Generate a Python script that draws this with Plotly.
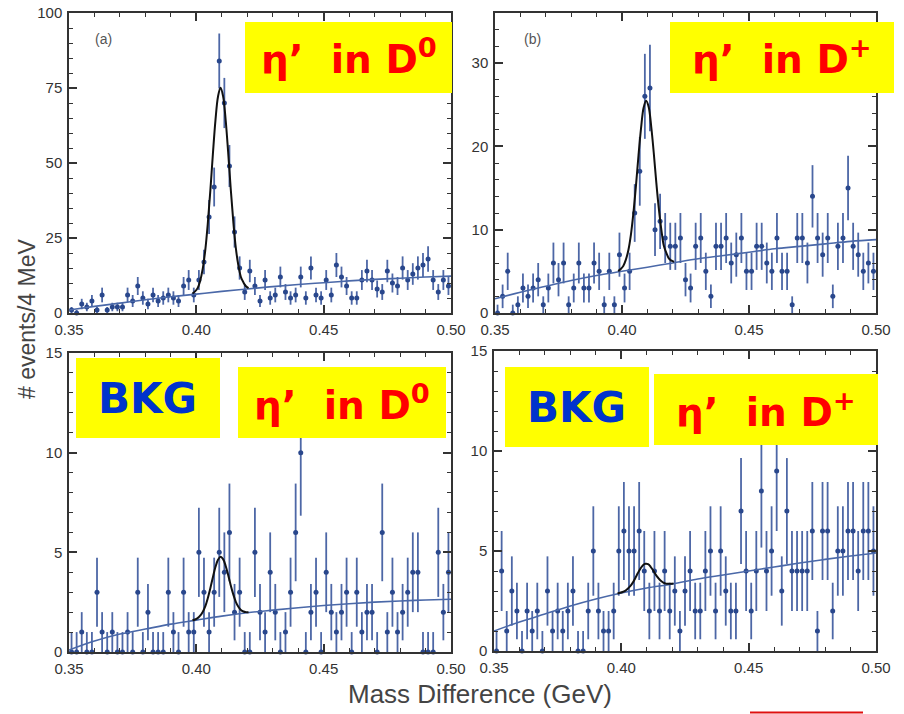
import math
import plotly.graph_objects as go

W, H = 904, 714

# ---------------- data ----------------
BIN_START = 0.350
BIN_WIDTH = 0.002
N_BINS = 75
MASS = [round(BIN_START + BIN_WIDTH * (i + 0.5), 4) for i in range(N_BINS)]

# (a) eta' in D0
COUNTS_A = [1, 0, 3, 2, 4, 1, 6, 1, 2, 2, 2, 6, 4, 9, 5, 3, 6, 4, 5, 6, 5, 4, 9, 11, 6,
            11, 17, 32, 42, 84, 70, 49, 27, 15, 7, 14, 9, 4, 11, 5, 6, 12, 7, 5, 6,
            12, 5, 15, 6, 5, 11, 6, 16, 12, 9, 5, 5, 11, 14, 11, 8, 7, 14, 10, 9,
            15, 11, 13, 15, 16, 18, 11, 7, 11, 9]
# (b) eta' in D+
COUNTS_B = [0, 2, 5, 0, 1, 3, 2, 3, 4, 1, 3, 6, 4, 6, 1, 3, 6, 3, 3, 6,
            5, 1, 5, 1, 7, 3, 5, 12, 17, 26, 27, 10, 11, 9, 8, 8, 9, 4, 3, 8,
            9, 5, 2, 8, 8, 9, 6, 7, 9, 5, 5, 8, 8, 6, 5, 9, 5, 5, 1, 9,
            9, 6, 14, 9, 7, 9, 2, 8, 9, 15, 8, 7, 5, 6, 5]
# BKG eta' in D0
COUNTS_C = [0, 0, 1, 0, 0, 3, 1, 0, 1, 0, 0, 1, 0, 3, 0, 2, 0, 0, 0, 3,
            1, 0, 3, 1, 1, 5, 3, 1, 3, 5, 4, 6, 2, 3, 0, 0, 5, 2, 1, 4,
            2, 0, 1, 3, 6, 10, 0, 2, 3, 0, 4, 2, 1, 2, 3, 0, 3, 1, 2, 2,
            0, 6, 1, 3, 1, 2, 3, 4, 4, 0, 0, 0, 5, 2, 4]
# BKG eta' in D+
COUNTS_D = [0, 4, 1, 3, 2, 0, 2, 1, 2, 0, 3, 1, 2, 1, 2, 3, 0, 0, 2, 5,
            2, 1, 1, 2, 5, 6, 5, 5, 6, 4, 2, 4, 2, 4, 2, 3, 1, 3, 4, 2,
            2, 4, 5, 2, 5, 3, 2, 2, 7, 4, 2, 4, 8, 4, 5, 9, 3, 7, 4, 4,
            4, 4, 6, 1, 6, 6, 2, 5, 5, 6, 6, 4, 6, 6, 5]

# background fit curves
FIT_X = [0.35, 0.36, 0.37, 0.38, 0.39, 0.40, 0.41, 0.42, 0.43, 0.44, 0.45, 0.46,
         0.47, 0.48, 0.49, 0.50]
BKG_A = [1.0, 2.2, 3.3, 4.4, 5.4, 6.3, 7.2, 8.0, 8.8, 9.5, 10.1, 10.7, 11.2, 11.6, 12.0, 12.3]
BKG_B = [1.7, 2.5, 3.2, 3.9, 4.5, 5.0, 5.5, 6.0, 6.5, 6.9, 7.3, 7.7, 8.0, 8.3, 8.6, 8.8]
BKG_C = [0.1, 0.55, 0.9, 1.15, 1.4, 1.6, 1.8, 1.97, 2.1, 2.22, 2.33, 2.42, 2.5, 2.56, 2.61, 2.65]
BKG_D = [1.0, 1.45, 1.85, 2.25, 2.6, 2.9, 3.15, 3.35, 3.6, 3.8, 4.0, 4.2, 4.4, 4.58, 4.75, 4.9]

# signal + background curves around the peak
PEAK_X = [0.3985, 0.3995, 0.4005, 0.4015, 0.4025, 0.4035, 0.4045, 0.4055, 0.4065, 0.4075,
          0.4085, 0.4095, 0.4105, 0.4115, 0.4125, 0.4135, 0.4145, 0.4155, 0.4165, 0.4175,
          0.4185, 0.4195, 0.4205]
PEAK_A = [6.5, 7.2, 8.3, 10.7, 14.7, 20.9, 29.8, 40.8, 53.0, 64.1, 72.1, 75.1, 72.3, 64.5,
          53.5, 41.5, 30.6, 21.7, 15.9, 12.0, 10.2, 8.9, 8.3]
PEAK_B = [5.03, 5.28, 5.63, 6.38, 7.53, 9.38, 12.03, 15.28, 18.93, 22.18, 24.63, 25.48,
          24.73, 22.38, 19.23, 15.68, 12.53, 9.98, 8.03, 7.18, 6.53, 6.28, 6.13]
PEAK_C = [1.59, 1.63, 1.70, 1.82, 2.01, 2.29, 2.70, 3.20, 3.75, 4.26, 4.63, 4.78, 4.66,
          4.33, 3.86, 3.35, 2.89, 2.52, 2.27, 2.11, 2.03, 2.00, 2.00]
PEAK_D = [2.88, 2.91, 2.95, 3.01, 3.11, 3.24, 3.42, 3.65, 3.90, 4.12, 4.29, 4.36, 4.34,
          4.21, 4.03, 3.82, 3.65, 3.51, 3.42, 3.37, 3.36, 3.36, 3.37]

X_TICKS = [0.35, 0.40, 0.45, 0.50]
Y_RANGES = [[0, 100], [0, 36], [0, 15], [0, 15]]
Y_DTICK = [25, 10, 5, 5]
Y_MINOR = [5, 2, 1, 1]

X_TITLE = "Mass Difference (GeV)"
Y_TITLE = "# events/4 MeV"

# ---------------- style ----------------
PT_COLOR = "#29478c"
ERR_COLOR = "#4d67a6"
BKG_COLOR = "#4a68a8"
AX_COLOR = "#333333"
TICK_FONT = dict(family="Liberation Sans, Arial, sans-serif", size=15, color="#333333")


def px(x):
    return x / W


def py(y):
    return 1 - y / H


# axis domains in pixel positions (left, right, top, bottom)
PANELS = [
    (69, 451, 13, 313),
    (495, 876, 13, 313),
    (69, 451, 353, 652),
    (494, 876, 351, 651),
]

fig = go.Figure()

datasets = [(COUNTS_A, BKG_A, PEAK_A), (COUNTS_B, BKG_B, PEAK_B),
            (COUNTS_C, BKG_C, PEAK_C), (COUNTS_D, BKG_D, PEAK_D)]

for k, (counts, bkg, peak) in enumerate(datasets):
    xa = "x" if k == 0 else f"x{k+1}"
    ya = "y" if k == 0 else f"y{k+1}"
    err_up = [math.sqrt(c) if c > 0 else 1.0 for c in counts]
    err_dn = [math.sqrt(c) for c in counts]
    fig.add_trace(go.Scatter(
        x=MASS, y=counts, mode="markers", xaxis=xa, yaxis=ya,
        marker=dict(color=PT_COLOR, size=5),
        error_y=dict(type="data", symmetric=False, array=err_up, arrayminus=err_dn,
                     color=ERR_COLOR, thickness=1.8, width=0),
        cliponaxis=False, showlegend=False, hoverinfo="skip"))
    fig.add_trace(go.Scatter(
        x=FIT_X, y=bkg, mode="lines", xaxis=xa, yaxis=ya,
        line=dict(color=BKG_COLOR, width=1.6, shape="spline"),
        showlegend=False, hoverinfo="skip"))
    fig.add_trace(go.Scatter(
        x=PEAK_X, y=peak, mode="lines", xaxis=xa, yaxis=ya,
        line=dict(color="#111111", width=2, shape="spline"),
        showlegend=False, hoverinfo="skip"))

layout = dict(width=W, height=H, margin=dict(l=0, r=0, t=0, b=0, autoexpand=False),
              paper_bgcolor="white", plot_bgcolor="white", showlegend=False)

for k, (l, r, t, b) in enumerate(PANELS):
    xname = "xaxis" if k == 0 else f"xaxis{k+1}"
    yname = "yaxis" if k == 0 else f"yaxis{k+1}"
    xa = "x" if k == 0 else f"x{k+1}"
    ya = "y" if k == 0 else f"y{k+1}"
    layout[xname] = dict(
        domain=[px(l), px(r)], anchor=ya, range=[0.35, 0.50], automargin=False,
        tickvals=X_TICKS, tickformat=".2f", ticks="inside", ticklen=8, tickwidth=1.5,
        tickcolor=AX_COLOR, showline=True, linecolor=AX_COLOR, linewidth=1.5,
        mirror="ticks", showgrid=False, zeroline=False, tickfont=TICK_FONT,
        ticklabelstandoff=2,
        minor=dict(tick0=0.35, dtick=0.01, ticks="inside", ticklen=4, tickwidth=1,
                   tickcolor=AX_COLOR, showgrid=False))
    layout[yname] = dict(
        domain=[py(b), py(t)], anchor=xa, range=Y_RANGES[k], dtick=Y_DTICK[k], tick0=0,
        automargin=False,
        ticks="inside", ticklen=8, tickwidth=1.5, tickcolor=AX_COLOR,
        showline=True, linecolor=AX_COLOR, linewidth=1.5, mirror="ticks",
        showgrid=False, zeroline=False, tickfont=TICK_FONT, ticklabelstandoff=2,
        minor=dict(tick0=0, dtick=Y_MINOR[k], ticks="inside", ticklen=4, tickwidth=1,
                   tickcolor=AX_COLOR, showgrid=False))

# yellow label boxes (pixel rectangles)
BOXES = [(245, 452, 22, 93), (670, 894, 22, 93), (76, 220, 358, 438),
         (238, 446, 367, 438), (505, 649, 367, 447), (654, 878, 374, 445)]
shapes = []
for (l, r, t, b) in BOXES:
    shapes.append(dict(type="rect", xref="paper", yref="paper",
                       x0=px(l), x1=px(r), y0=py(b), y1=py(t),
                       fillcolor="#ffff00", line=dict(width=0), layer="above"))
shapes.append(dict(type="line", xref="paper", yref="paper", x0=px(750), x1=px(863),
                   y0=py(712.5), y1=py(712.5), line=dict(color="#e01010", width=2)))
layout["shapes"] = shapes

LABEL_FONT = "DejaVu Sans, Verdana, sans-serif"
ETA_D0 = "η’  in D<sup>0</sup>"
ETA_DP = "η’  in D<sup>+</sup>"
ann = []


def add_text(text, x, y, size, color, family=LABEL_FONT, bold=True, angle=0):
    t = f"<b>{text}</b>" if bold else text
    ann.append(dict(text=t, x=px(x), y=py(y), xref="paper", yref="paper",
                    xanchor="center", yanchor="middle", showarrow=False,
                    textangle=angle, font=dict(family=family, size=size, color=color)))


add_text(ETA_D0, 349, 57, 39, "#ff0000")
add_text(ETA_DP, 782, 57, 39, "#ff0000")
add_text("BKG", 147, 398, 42, "#0033cc")
add_text(ETA_D0, 342, 403, 39, "#ff0000")
add_text("BKG", 576, 407, 42, "#0033cc")
add_text(ETA_DP, 766, 410, 39, "#ff0000")

add_text("(a)", 103, 39, 14, "#555555", family="Liberation Sans, Arial", bold=False)
add_text("(b)", 532, 39, 14, "#555555", family="Liberation Sans, Arial", bold=False)

add_text(X_TITLE, 480, 694, 26, "#444444", family="Liberation Sans, Arial", bold=False)
add_text(Y_TITLE, 27, 319, 23, "#444444", family="Liberation Sans, Arial", bold=False,
         angle=-90)
layout["annotations"] = ann

fig.update_layout(**layout)
fig.write_html("out.html")
